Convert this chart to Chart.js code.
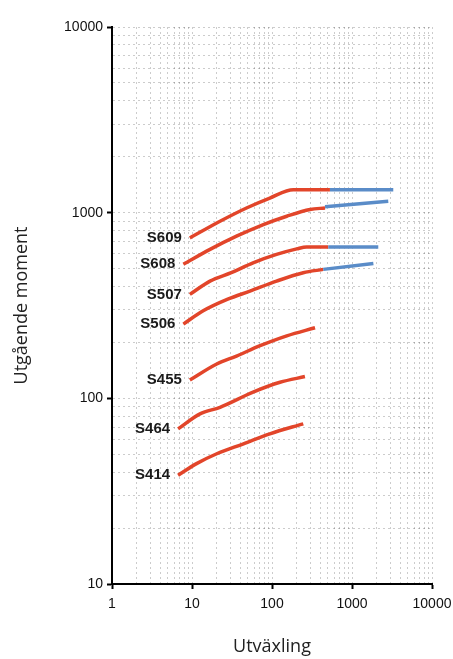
<!DOCTYPE html>
<html>
<head>
<meta charset="utf-8">
<script src="https://cdn.jsdelivr.net/npm/chart.js@4/dist/chart.umd.min.js"></script>
<style>
  html, body { margin: 0; padding: 0; background: #fff; }
  #wrap { width: 453px; height: 659px; }
</style>
</head>
<body>
<div id="wrap"><canvas id="momentChart" width="453" height="659"></canvas></div>
<script>
// axis decades (log-log chart)
const xDecades = [1, 10, 100, 1000, 10000];
const yDecades = [10, 100, 1000, 10000];

const xTitle = "Utväxling";
const yTitle = "Utgående moment";

// [utväxling, moment]
const s609Red = [[9.4, 731], [22.4, 899], [48, 1060], [94, 1199], [185, 1330], [530, 1330]];
const s609Blue = [[530, 1330], [3280, 1330]];
const s608Red = [[7.8, 527], [16.8, 634], [36, 747], [78, 863], [153, 957], [299, 1040], [460, 1060]];
const s608Blue = [[460, 1075], [2840, 1152]];
const s507Red = [[9.4, 363], [16.8, 428], [31, 475], [58, 537], [114, 596], [204, 638], [271, 654], [505, 654]];
const s507Blue = [[505, 654], [2130, 654]];
const s506Red = [[7.8, 251], [13.8, 296], [28, 342], [53, 378], [114, 428], [246, 475], [438, 495]];
const s506Blue = [[438, 495], [1850, 533]];
const s455Red = [[9.4, 125.5], [20.4, 153], [36, 169], [71, 192], [153, 217], [345, 240]];
const s464Red = [[6.7, 68.5], [12.6, 82.5], [22.4, 89.5], [58, 108], [126, 122], [258, 131]];
const s414Red = [[6.7, 38.5], [11.4, 44.5], [20.4, 50.3], [44, 56.9], [94, 64.4], [246, 72.9]];

const seriesNames = ["S609", "S608", "S507", "S506", "S455", "S464", "S414"];
const redParts = [s609Red, s608Red, s507Red, s506Red, s455Red, s464Red, s414Red];
const blueParts = [s609Blue, s608Blue, s507Blue, s506Blue];

const RED = "#e2452a";
const BLUE = "#5a8cc8";

const toPoints = (arr) => arr.map(([x, y]) => ({ x: x, y: y }));

const lineStyle = { borderWidth: 3.5, pointRadius: 0, fill: false, cubicInterpolationMode: "monotone" };

const datasets = [];
blueParts.forEach((part) => {
  datasets.push({ ...lineStyle, data: toPoints(part), borderColor: BLUE });
});
redParts.forEach((part, i) => {
  datasets.push({ ...lineStyle, seriesName: seriesNames[i], data: toPoints(part), borderColor: RED });
});

// every 1..9 step of every decade, for the fine grid
function logTicks(decades) {
  const out = [];
  for (let d = 0; d < decades.length - 1; d++) {
    for (let m = 1; m < 10; m++) out.push({ value: decades[d] * m });
  }
  out.push({ value: decades[decades.length - 1] });
  return out;
}
const isDecade = (v) => Math.abs(Math.log10(v) - Math.round(Math.log10(v))) < 1e-9;

// names written to the left of each curve
const seriesLabels = {
  id: "seriesLabels",
  afterDatasetsDraw(chart) {
    const { ctx, scales: { x, y } } = chart;
    ctx.save();
    ctx.font = 'bold 15px "Liberation Sans", Arial, sans-serif';
    ctx.fillStyle = "#1a1a1a";
    ctx.textAlign = "right";
    ctx.textBaseline = "middle";
    chart.data.datasets.forEach((ds) => {
      if (!ds.seriesName) return;
      const p = ds.data[0];
      ctx.fillText(ds.seriesName, x.getPixelForValue(p.x) - 8, y.getPixelForValue(p.y));
    });
    ctx.restore();
  }
};

const tickFont = { family: '"Liberation Sans", Arial, sans-serif', size: 14 };
const titleFont = { family: '"Open Sans", sans-serif', size: 18 };

const gridOpts = {
  color: "rgba(0,0,0,0.2)",
  lineWidth: 1,
  drawTicks: true,
  tickLength: 5,
  tickWidth: 2,
  tickColor: (c) => (c.tick && isDecade(c.tick.value) ? "#000" : "rgba(0,0,0,0)")
};

const ctx = document.getElementById("momentChart").getContext("2d");
new Chart(ctx, {
  type: "line",
  data: { datasets: datasets },
  options: {
    responsive: false,
    animation: false,
    devicePixelRatio: 1,
    layout: { padding: { left: 11, top: 27, right: 21, bottom: 1 } },
    plugins: { legend: { display: false }, tooltip: { enabled: false } },
    scales: {
      x: {
        type: "logarithmic",
        position: "bottom",
        min: xDecades[0],
        max: xDecades[xDecades.length - 1],
        afterBuildTicks: (scale) => { scale.ticks = logTicks(xDecades); },
        afterFit: (scale) => {
          scale.height = 74;
          scale.paddingLeft = 0;
          scale.paddingRight = 0;
        },
        ticks: {
          autoSkip: false,
          maxRotation: 0,
          padding: 7,
          font: tickFont,
          color: "#111",
          callback: (v) => (isDecade(v) ? String(v) : "")
        },
        grid: gridOpts,
        border: { display: true, color: "#000", width: 2, dash: [2, 3] },
        title: { display: true, text: xTitle, font: titleFont, color: "#222", padding: 0 }
      },
      y: {
        type: "logarithmic",
        position: "left",
        min: yDecades[0],
        max: yDecades[yDecades.length - 1],
        afterBuildTicks: (scale) => { scale.ticks = logTicks(yDecades); },
        afterFit: (scale) => { scale.width = 101; },
        ticks: {
          autoSkip: false,
          padding: 4,
          font: tickFont,
          color: "#111",
          callback: (v) => (isDecade(v) ? String(v) : "")
        },
        grid: gridOpts,
        border: { display: true, color: "#000", width: 2, dash: [2, 3] },
        title: { display: true, text: yTitle, font: titleFont, color: "#222", padding: 0 }
      }
    }
  },
  plugins: [seriesLabels]
});
</script>
</body>
</html>
